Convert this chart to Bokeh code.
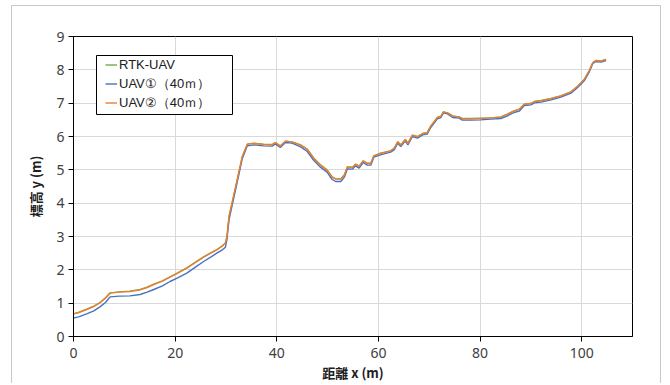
from bokeh.plotting import figure
from bokeh.models import FixedTicker, Legend, LegendItem, Range1d, BoxAnnotation
from bokeh.embed import file_html
from bokeh.resources import INLINE

# distance x (m)
dist = [0, 1, 2.6, 4, 5.2, 6.3, 7.2, 9, 11.1, 13.1,
        14.5, 15.8, 17.5, 19.0, 20.5, 22.3, 24, 25.6, 27, 28.2,
        29.2, 29.9, 30.2, 30.6, 31.2, 32.2, 33.2, 34.2, 35.5, 37.4,
        39.1, 39.7, 40.7, 41.7, 43.0, 44.7, 46.0, 47.3, 48.6, 49.9,
        50.9, 51.6, 52.6, 53.3, 53.9, 54.9, 55.5, 56.2, 57.0, 57.8,
        58.5, 59.1, 60.4, 62.4, 63.1, 63.8, 64.4, 65.3, 65.8, 66.7,
        67.7, 68.7, 69.6, 70.3, 71.6, 72.3, 72.8, 73.6, 74.6, 75.9,
        76.5, 78.2, 80.1, 82.1, 84.1, 85.4, 86.7, 87.7, 88.7, 90.0,
        90.7, 92.0, 94.0, 95.9, 97.9, 99.2, 100.5, 101.5, 102.2, 102.8,
        103.8, 104.8]

# RTK-UAV elevation
rtk_uav = [0.68, 0.72, 0.82, 0.91, 1.02, 1.16, 1.31, 1.34, 1.36, 1.41,
           1.48, 1.57, 1.67, 1.79, 1.91, 2.06, 2.23, 2.39, 2.51, 2.61,
           2.71, 2.81, 3.0, 3.6, 4.0, 4.69, 5.39, 5.77, 5.80, 5.77,
           5.76, 5.82, 5.72, 5.86, 5.84, 5.75, 5.62, 5.35, 5.15, 5.00,
           4.79, 4.73, 4.73, 4.85, 5.09, 5.08, 5.17, 5.11, 5.27, 5.20,
           5.20, 5.42, 5.50, 5.57, 5.65, 5.84, 5.75, 5.91, 5.80, 6.04,
           6.00, 6.09, 6.12, 6.31, 6.57, 6.61, 6.74, 6.71, 6.62, 6.59,
           6.54, 6.54, 6.55, 6.56, 6.59, 6.67, 6.77, 6.82, 6.97, 6.99,
           7.05, 7.08, 7.14, 7.22, 7.34, 7.51, 7.71, 7.98, 8.22, 8.28,
           8.27, 8.31]

# UAV1 (40 m) elevation
uav1 = [0.55, 0.59, 0.68, 0.77, 0.89, 1.02, 1.19, 1.21, 1.22, 1.26,
        1.33, 1.41, 1.52, 1.65, 1.76, 1.90, 2.08, 2.25, 2.38, 2.50,
        2.59, 2.68, 2.92, 3.5, 3.92, 4.62, 5.33, 5.72, 5.75, 5.72,
        5.71, 5.78, 5.67, 5.82, 5.80, 5.69, 5.55, 5.28, 5.08, 4.93,
        4.71, 4.65, 4.65, 4.78, 5.03, 5.02, 5.12, 5.05, 5.22, 5.14,
        5.14, 5.38, 5.45, 5.53, 5.60, 5.80, 5.70, 5.87, 5.75, 6.00,
        5.95, 6.05, 6.07, 6.27, 6.53, 6.57, 6.71, 6.68, 6.57, 6.55,
        6.49, 6.49, 6.50, 6.52, 6.54, 6.62, 6.72, 6.76, 6.93, 6.95,
        7.01, 7.03, 7.10, 7.18, 7.30, 7.47, 7.67, 7.94, 8.19, 8.25,
        8.23, 8.28]

# UAV2 (40 m) elevation
uav2 = [0.68, 0.72, 0.81, 0.9, 1.01, 1.15, 1.30, 1.33, 1.35, 1.40,
        1.47, 1.56, 1.66, 1.78, 1.90, 2.05, 2.22, 2.38, 2.50, 2.60,
        2.70, 2.80, 3.0, 3.6, 4.0, 4.69, 5.39, 5.77, 5.79, 5.76,
        5.75, 5.82, 5.71, 5.86, 5.84, 5.74, 5.61, 5.34, 5.14, 4.99,
        4.78, 4.72, 4.72, 4.84, 5.09, 5.07, 5.17, 5.10, 5.27, 5.19,
        5.19, 5.42, 5.49, 5.57, 5.64, 5.84, 5.74, 5.91, 5.79, 6.04,
        5.99, 6.09, 6.11, 6.31, 6.57, 6.60, 6.74, 6.71, 6.61, 6.59,
        6.53, 6.53, 6.54, 6.56, 6.58, 6.67, 6.77, 6.81, 6.97, 6.99,
        7.05, 7.07, 7.14, 7.22, 7.34, 7.51, 7.71, 7.98, 8.22, 8.28,
        8.26, 8.31]

series_names = ["RTK-UAV", "UAV①（40ｍ）", "UAV②（40ｍ）"]
series_colors = ["#70AD47", "#4472C4", "#ED7D31"]
x_ticks = [0, 20, 40, 60, 80, 100]
y_ticks = [0, 1, 2, 3, 4, 5, 6, 7, 8, 9]

p = figure(width=650, height=378, output_backend="svg", toolbar_location=None,
           x_range=Range1d(0, 110), y_range=Range1d(0, 9),
           min_border_left=61, min_border_right=30, min_border_top=30,
           min_border_bottom=48)
p.styles = {"border-left": "1px solid #c8c8c8", "border-right": "1px solid #c8c8c8",
            "border-top": "1px solid #c8c8c8",
            "margin-left": "11px", "margin-top": "5px"}
p.outline_line_color = "black"
p.outline_line_width = 1

renderers = []
for ys, c in zip([rtk_uav, uav1, uav2], series_colors):
    r = p.line(dist, ys, line_color=c, line_width=1.4)
    renderers.append(r)

for ax in (p.xaxis[0], p.yaxis[0]):
    ax.axis_line_color = "black"
    ax.major_tick_line_color = "black"
    ax.major_tick_in = 0
    ax.major_tick_out = 5
    ax.minor_tick_line_color = None
    ax.major_label_text_font = "Noto Sans"
    ax.major_label_text_font_size = "14px"
    ax.major_label_text_color = "#404040"
    ax.axis_label_text_font = "Noto Sans CJK JP"
    ax.axis_label_text_font_style = "bold"
    ax.axis_label_text_font_size = "13px"
    ax.axis_label_text_color = "#202020"

p.xaxis.ticker = FixedTicker(ticks=x_ticks)
p.yaxis.ticker = FixedTicker(ticks=y_ticks)
p.xgrid.ticker = FixedTicker(ticks=x_ticks)
p.ygrid.ticker = FixedTicker(ticks=y_ticks)
p.xgrid.grid_line_color = "#d9d9d9"
p.ygrid.grid_line_color = "#d9d9d9"
p.xaxis.axis_label = "距離 x (m)"
p.yaxis.axis_label = "標高 y (m)"
p.xaxis.major_label_standoff = 6
p.yaxis.major_label_standoff = 4
p.xaxis.axis_label_standoff = 2
p.yaxis.axis_label_standoff = 8

# legend frame (canvas pixels)
legend_box = BoxAnnotation(left=83, right=219, top=48, bottom=107,
                           left_units="canvas", right_units="canvas",
                           top_units="canvas", bottom_units="canvas",
                           fill_color="white", fill_alpha=1,
                           line_color="black", line_width=1, line_alpha=1,
                           editable=False)
p.add_layout(legend_box)

legend = Legend(items=[LegendItem(label=n, renderers=[r]) for n, r in zip(series_names, renderers)],
                location=(32, 224))
legend.border_line_color = None
legend.background_fill_alpha = 0
legend.label_text_font = "Liberation Sans"
legend.label_text_font_size = "13px"
legend.label_text_color = "#202020"
legend.glyph_width = 12
legend.glyph_height = 19
legend.label_height = 19
legend.label_standoff = 2
legend.spacing = 0
legend.padding = 0
legend.margin = 0
p.add_layout(legend, "center")

open("out.html", "w").write(file_html(p, INLINE))
